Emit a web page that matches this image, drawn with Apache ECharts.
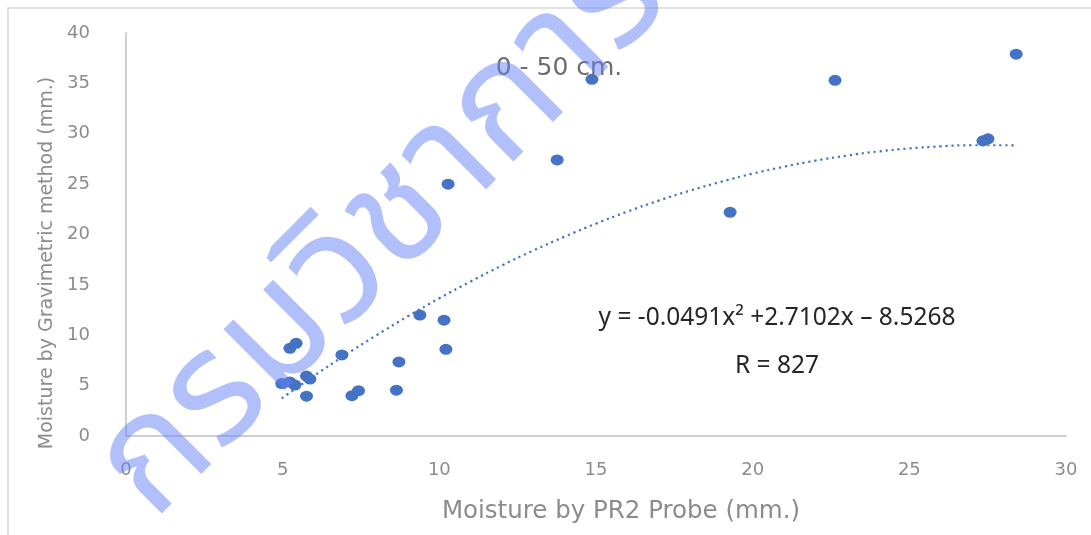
<!DOCTYPE html>
<html>
<head>
<meta charset="utf-8">
<script src="https://cdn.jsdelivr.net/npm/echarts@6/dist/echarts.min.js"></script>
<style>
html,body{margin:0;padding:0;background:#fff;}
#c{width:1091px;height:535px;}
</style>
</head>
<body>
<div id="c"></div>
<script>
// PR2 probe moisture (mm.)
const probeX = [4.97, 5.23, 5.39, 5.76, 5.87, 5.76, 5.23, 5.43, 6.89, 7.21, 7.42, 8.63, 8.71, 9.38, 10.15, 10.21, 10.28, 13.76, 14.87, 19.28, 22.63, 27.35, 27.51, 28.41];
// Gravimetric moisture (mm.)
const gravY = [5.2, 5.35, 5.05, 5.95, 5.65, 3.95, 8.7, 9.2, 8.05, 4.0, 4.5, 4.55, 7.35, 12.0, 11.5, 8.6, 25.0, 27.4, 35.4, 22.2, 35.3, 29.3, 29.5, 37.9];
// Polynomial trendline
const trendX = [4.97, 6, 7, 8, 9, 10, 11, 12, 13, 14, 15, 16, 17, 18, 19, 20, 21, 22, 23, 24, 25, 26, 27, 28, 28.41];
const trendY = [3.73, 5.97, 8.04, 10.01, 11.89, 13.67, 15.34, 16.93, 18.41, 19.79, 21.08, 22.27, 23.36, 24.35, 25.24, 26.04, 26.73, 27.33, 27.83, 28.24, 28.54, 28.75, 28.86, 28.86, 28.84];
const xTicks = [0, 5, 10, 15, 20, 25, 30];
const yTicks = [0, 5, 10, 15, 20, 25, 30, 35, 40];

const chartTitle = '0 - 50 cm.';
const xTitle = 'Moisture by PR2 Probe (mm.)';
const yTitle = 'Moisture by Gravimetric method (mm.)';
const eqText = 'y = -0.0491x² +2.7102x \u2013 8.5268';
const rText = 'R = 827';
const watermark = 'กรมวิชาการ';

const scatterData = probeX.map((x, i) => [x, gravY[i]]);
const trendData = trendX.map((x, i) => [x, trendY[i]]);

const dv = '"DejaVu Sans", "Noto Sans", sans-serif';
const ns = '"Noto Sans", "Open Sans", sans-serif';
const chart = echarts.init(document.getElementById('c'));
chart.setOption({
  animation: false,
  backgroundColor: '#fff',
  grid: { left: 126, right: 25, top: 33, bottom: 99, containLabel: false },
  xAxis: {
    type: 'value', min: 0, max: 30, interval: 5,
    axisLine: { show: true, lineStyle: { color: '#BFBFBF', width: 1.5 } },
    axisTick: { show: false },
    splitLine: { show: false },
    axisLabel: { margin: 25, color: '#8C8C8C', fontSize: 18, fontFamily: dv }
  },
  yAxis: {
    type: 'value', min: 0, max: 40, interval: 5,
    axisLine: { show: true, lineStyle: { color: '#BFBFBF', width: 1.5 } },
    axisTick: { show: false },
    splitLine: { show: false },
    axisLabel: { margin: 36, color: '#8C8C8C', fontSize: 18, fontFamily: dv }
  },
  series: [
    {
      type: 'line', data: trendData, smooth: true, showSymbol: false, symbol: 'none',
      lineStyle: { color: '#4472C4', width: 2.2, type: [2.2, 3.8], cap: 'butt' },
      z: 2
    },
    {
      type: 'scatter', data: scatterData, symbol: 'circle', symbolSize: [13, 11],
      itemStyle: { color: '#4472C4', opacity: 1 },
      z: 3
    }
  ],
  graphic: [
    { type: 'rect', shape: { x: 8, y: 8, width: 1200, height: 700 }, style: { fill: 'none', stroke: '#D9D9D9', lineWidth: 1.5 }, z: 0 },
    { type: 'text', x: 559, y: 68, style: { text: chartTitle, font: '25px ' + dv, fill: '#6E6E6E', textAlign: 'center', textVerticalAlign: 'middle' }, z: 5 },
    { type: 'text', x: 621, y: 512, style: { text: xTitle, font: '24.5px ' + dv, fill: '#8C8C8C', textAlign: 'center', textVerticalAlign: 'middle' }, z: 5 },
    { type: 'text', x: 47, y: 263, rotation: Math.PI / 2, style: { text: yTitle, font: '19px ' + dv, fill: '#8C8C8C', textAlign: 'center', textVerticalAlign: 'middle' }, z: 5 },
    { type: 'text', x: 777, y: 318, style: { text: eqText, font: '24.5px ' + ns, fill: '#262626', textAlign: 'center', textVerticalAlign: 'middle' }, z: 5 },
    { type: 'text', x: 777, y: 366, style: { text: rText, font: '24.5px ' + ns, fill: '#262626', textAlign: 'center', textVerticalAlign: 'middle' }, z: 5 },
    { type: 'text', x: 390, y: 240, rotation: Math.PI / 4, style: { text: watermark, font: 'normal 158px "Noto Sans Thai", "Noto Sans", sans-serif', fill: 'rgba(100,130,245,0.5)', textAlign: 'center', textVerticalAlign: 'middle' }, z: 100 }
  ]
});
</script>
</body>
</html>
